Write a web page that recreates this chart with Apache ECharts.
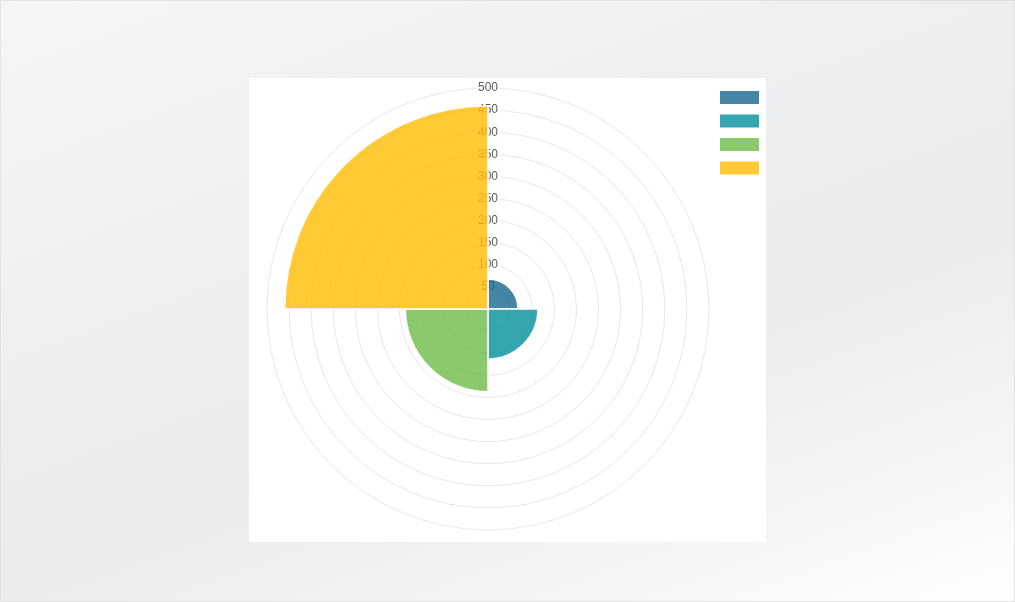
<!DOCTYPE html>
<html>
<head>
<meta charset="utf-8">
<script src="https://cdn.jsdelivr.net/npm/echarts@6/dist/echarts.min.js"></script>
<style>
html,body{margin:0;padding:0;width:1015px;height:602px;overflow:hidden;}
body{background:linear-gradient(160deg,#f5f6f7 0%,#eceef0 40%,#eaebed 60%,#f6f6f7 85%,#ffffff 100%);}
#frame{position:absolute;left:0;top:0;width:1013px;height:600px;border:1px solid #e2e3e5;}
#panel{position:absolute;left:249px;top:78px;width:517px;height:464px;background:#fff;}
#chart{position:absolute;left:0;top:0;width:1015px;height:602px;}
</style>
</head>
<body>
<div id="frame"></div>
<div id="panel"></div>
<div id="chart"></div>
<script>
const categories = ['A', 'B', 'C', 'D'];
const seriesNames = ['S1', 'S2', 'S3', 'S4'];
const values = [68, 113, 187, 460];
const colors = ['rgba(22,102,142,0.8)', 'rgba(3,144,156,0.8)', 'rgba(109,189,71,0.8)', 'rgba(255,189,0,0.8)'];
const radiusTicks = { min: 0, max: 500, interval: 50 };

const chart = echarts.init(document.getElementById('chart'), null, { renderer: 'canvas' });
const series = seriesNames.map((name, i) => ({
  name: name,
  type: 'bar',
  coordinateSystem: 'polar',
  barGap: '-100%',
  barCategoryGap: '0%',
  data: categories.map((c, j) => (j === i ? values[i] : '-')),
  itemStyle: { color: colors[i], borderColor: '#fff', borderWidth: 1.5 },
  z: 3
}));

chart.setOption({
  backgroundColor: 'transparent',
  animation: false,
  legend: {
    orient: 'vertical',
    left: 720,
    top: 91,
    padding: 0,
    icon: 'rect',
    itemWidth: 39,
    itemHeight: 13,
    itemGap: 10.5,
    itemStyle: { borderWidth: 0 },
    formatter: () => '',
    textStyle: { fontSize: 1, padding: 0, lineHeight: 1 },
    data: seriesNames.map((n, i) => ({ name: n, itemStyle: { color: colors[i], borderWidth: 0 } }))
  },
  polar: { center: [488, 309], radius: 221 },
  angleAxis: {
    type: 'category',
    data: categories,
    startAngle: 90,
    clockwise: true,
    axisLine: { show: false },
    axisTick: { show: false },
    axisLabel: { show: false },
    splitLine: { show: false }
  },
  radiusAxis: {
    type: 'value',
    min: radiusTicks.min,
    max: radiusTicks.max,
    interval: radiusTicks.interval,
    z: 1,
    axisLine: { show: false },
    axisTick: { show: false },
    splitLine: { show: true, lineStyle: { color: '#e6e6e6', width: 1 } },
    axisLabel: {
      margin: 0,
      align: 'center',
      verticalAlign: 'middle',
      color: '#5a5a5a',
      fontSize: 12,
      fontFamily: 'Helvetica, Arial, sans-serif',
      backgroundColor: '#fff',
      padding: [1, 2],
      formatter: v => (v === 0 ? '' : String(v))
    }
  },
  series: series
});
</script>
</body>
</html>
